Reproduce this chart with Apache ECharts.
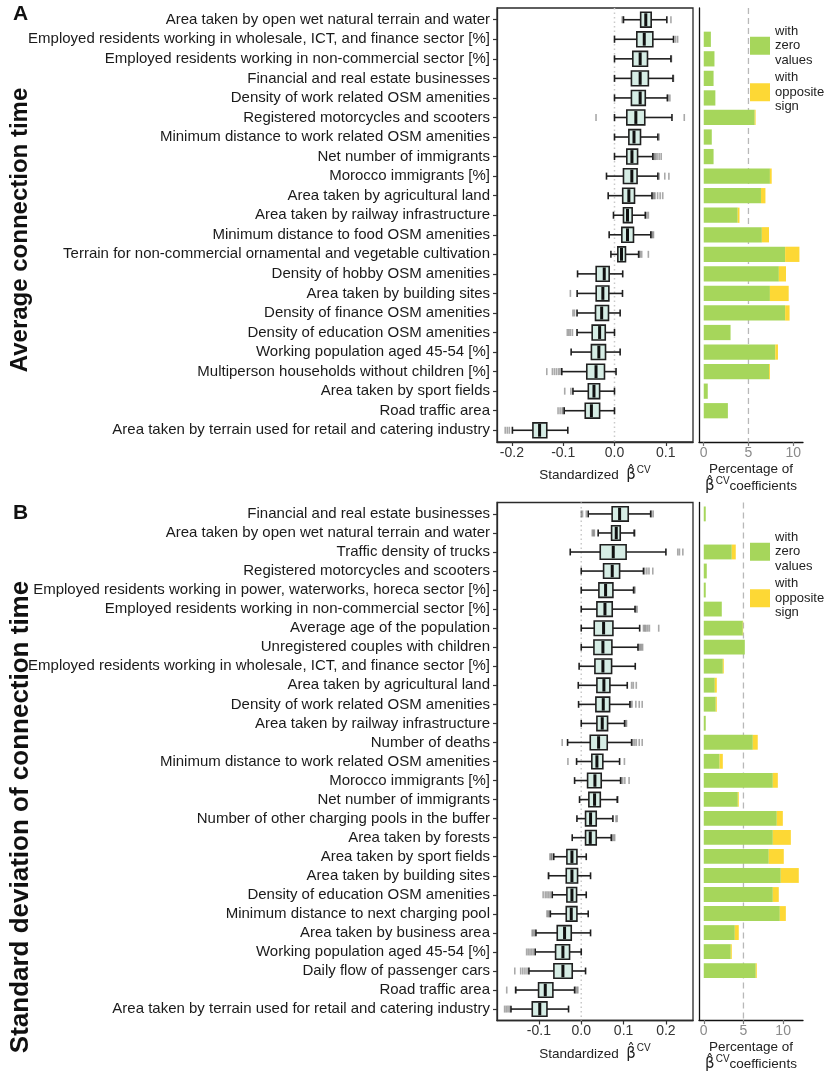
<!DOCTYPE html>
<html><head><meta charset="utf-8">
<script src="https://cdn.jsdelivr.net/npm/echarts@6/dist/echarts.min.js"></script>
<style>html,body{margin:0;padding:0;background:#fff}#c{width:826px;height:1074px}</style>
</head><body><div id="c"></div>
<script>
// ---------------- Panel A data ----------------
const catsA = [
"Area taken by open wet natural terrain and water",
"Employed residents working in wholesale, ICT, and finance sector [%]",
"Employed residents working in non-commercial sector [%]",
"Financial and real estate businesses",
"Density of work related OSM amenities",
"Registered motorcycles and scooters",
"Minimum distance to work related OSM amenities",
"Net number of immigrants",
"Morocco immigrants [%]",
"Area taken by agricultural land",
"Area taken by railway infrastructure",
"Minimum distance to food OSM amenities",
"Terrain for non-commercial ornamental and vegetable cultivation",
"Density of hobby OSM amenities",
"Area taken by building sites",
"Density of finance OSM amenities",
"Density of education OSM amenities",
"Working population aged 45-54 [%]",
"Multiperson households without children [%]",
"Area taken by sport fields",
"Road traffic area",
"Area taken by terrain used for retail and catering industry"];
const loA  = [0.0175,0.0,0.0,0.0,0.0,0.0,0.0,0.0,-0.0156,-0.0123,-0.002,-0.0104,-0.007,-0.072,-0.0728,-0.073,-0.073,-0.0845,-0.1027,-0.081,-0.098,-0.199];
const q1A  = [0.051,0.0435,0.0357,0.033,0.033,0.024,0.028,0.024,0.0175,0.016,0.0175,0.0143,0.0065,-0.0357,-0.0357,-0.037,-0.0435,-0.045,-0.054,-0.051,-0.057,-0.159];
const medA = [0.061,0.058,0.05,0.05,0.05,0.0416,0.038,0.034,0.0338,0.028,0.0253,0.0253,0.0136,-0.02,-0.0227,-0.025,-0.029,-0.0305,-0.036,-0.040,-0.045,-0.146];
const q3A  = [0.0715,0.0747,0.0643,0.066,0.060,0.059,0.0507,0.045,0.044,0.039,0.0344,0.037,0.0214,-0.0104,-0.011,-0.0117,-0.018,-0.0175,-0.0195,-0.029,-0.029,-0.132];
const hiA  = [0.102,0.115,0.11,0.114,0.103,0.112,0.0845,0.0747,0.0845,0.073,0.06,0.0708,0.047,0.016,0.0156,0.011,0.0,0.011,0.003,0.0,0.0,-0.091];
const outA = [[0.015,0.11],[0.119,0.123],[0.111],[0.115],[0.105,0.108],[-0.036,0.136],[0.087],
 [0.076,0.078,0.080,0.083,0.087,0.091],[0.087,0.098,0.106],[0.075,0.077,0.079,0.084,0.089,0.094],
 [0.063,0.066],[0.072,0.074,0.076],[0.048,0.050,0.053,0.066],[],[-0.086],[-0.081,-0.078],
 [-0.092,-0.089,-0.086,-0.082],[],[-0.132,-0.121,-0.117,-0.113,-0.109,-0.106],[-0.097,-0.085],
 [-0.110,-0.106,-0.102,-0.100],[-0.213,-0.209,-0.205]];
const zeroA = [0,0.8,1.2,1.1,1.3,5.7,0.9,1.1,7.4,6.4,3.8,6.5,9.1,8.4,7.4,9.1,3.0,8.0,7.3,0.45,2.7,0];
const oppA  = [0,0,0,0,0,0.1,0,0,0.2,0.5,0.2,0.8,1.6,0.8,2.1,0.5,0,0.3,0.1,0,0,0];

// ---------------- Panel B data ----------------
const catsB = [
"Financial and real estate businesses",
"Area taken by open wet natural terrain and water",
"Traffic density of trucks",
"Registered motorcycles and scooters",
"Employed residents working in power, waterworks, horeca sector [%]",
"Employed residents working in non-commercial sector [%]",
"Average age of the population",
"Unregistered couples with children",
"Employed residents working in wholesale, ICT, and finance sector [%]",
"Area taken by agricultural land",
"Density of work related OSM amenities",
"Area taken by railway infrastructure",
"Number of deaths",
"Minimum distance to work related OSM amenities",
"Morocco immigrants [%]",
"Net number of immigrants",
"Number of other charging pools in the buffer",
"Area taken by forests",
"Area taken by sport fields",
"Area taken by building sites",
"Density of education OSM amenities",
"Minimum distance to next charging pool",
"Area taken by business area",
"Working population aged 45-54 [%]",
"Daily flow of passenger cars",
"Road traffic area",
"Area taken by terrain used for retail and catering industry"];
const loB  = [0.0165,0.040,-0.026,0,0,0,0,0,-0.005,-0.007,-0.0063,0,-0.0323,-0.011,-0.0157,-0.004,-0.0102,-0.0213,-0.065,-0.077,-0.0685,-0.073,-0.107,-0.1087,-0.1236,-0.155,-0.166];
const q1B  = [0.073,0.0717,0.0449,0.0528,0.0417,0.037,0.0307,0.030,0.0323,0.037,0.0346,0.037,0.0213,0.025,0.015,0.018,0.0102,0.0102,-0.0339,-0.0354,-0.0339,-0.0354,-0.0567,-0.0606,-0.0646,-0.1008,-0.1157];
const medB = [0.0906,0.0827,0.0756,0.0732,0.0575,0.056,0.0528,0.0512,0.0512,0.0535,0.052,0.0496,0.041,0.037,0.0323,0.0315,0.022,0.0213,-0.022,-0.022,-0.022,-0.0236,-0.0394,-0.0433,-0.0433,-0.085,-0.098];
const q3B  = [0.111,0.0921,0.106,0.0906,0.0748,0.0732,0.0748,0.0724,0.0717,0.0677,0.067,0.0622,0.0614,0.051,0.0472,0.045,0.0354,0.0354,-0.0102,-0.0087,-0.011,-0.0102,-0.0236,-0.0276,-0.0213,-0.067,-0.081];
const hiB  = [0.164,0.125,0.2,0.147,0.1236,0.127,0.138,0.134,0.1276,0.1087,0.115,0.1024,0.119,0.0906,0.093,0.085,0.0748,0.0709,0.0118,0.022,0.0118,0.0165,0.022,0.0,0.0102,-0.0157,-0.03];
const outB = [[0.0,0.003,0.012,0.166,0.170],[0.026,0.029,0.031,0.127],[0.228,0.232,0.240],[0.150,0.155,0.160,0.169],
 [0.125,0.127],[0.129,0.132],[0.147,0.150,0.153,0.157,0.161,0.183],[0.136,0.139,0.142,0.145],[],
 [0.119,0.123,0.13],[0.117,0.120,0.129,0.137,0.144],[0.105,0.107],[-0.045,0.122,0.126,0.130,0.137,0.144],
 [-0.0315,0.102],[0.094,0.098,0.103,0.113],[0.087],[0.082,0.085],[0.073,0.076,0.079],[-0.074,-0.071,-0.069],
 [-0.078],[-0.09,-0.085,-0.081,-0.077,-0.073],[-0.081,-0.078,-0.075],[-0.116,-0.113,-0.110],
 [-0.129,-0.125,-0.121,-0.117,-0.113],[-0.157,-0.143,-0.138,-0.133,-0.128],[-0.176,-0.154,-0.014,-0.011,-0.008],
 [-0.181,-0.177,-0.173,-0.169]];
const zeroB = [0.25,0,3.53,0.38,0.25,2.27,4.92,5.17,2.4,1.39,1.51,0.25,6.18,2.0,8.7,4.29,9.2,8.7,8.19,9.7,8.7,9.58,3.91,3.4,6.55,0,0];
const oppB  = [0,0,0.5,0,0,0,0.04,0,0.12,0.25,0.13,0,0.62,0.4,0.63,0.12,0.76,2.27,1.89,2.27,0.75,0.76,0.5,0.13,0.13,0,0];

// tick labels
const ticksBoxA = [-0.2,-0.1,0.0,0.1];
const ticksBoxB = [-0.1,0.0,0.1,0.2];
const ticksBar = [0,5,10];
const refLine = 5;

const FONT = '"Liberation Sans", Arial, sans-serif';
const GREEN = '#a6d65b', YELLOW = '#fdd835', BOXFILL = '#d6ede5';
const idx = n => Array.from({length:n},(_,i)=>i);
const boxData = (lo,q1,md,q3,hi) => lo.map((v,i)=>[i,v,q1[i],md[i],q3[i],hi[i]]);
const outData = o => { const r=[]; o.forEach((a,i)=>a.forEach(v=>r.push([v,i]))); return r; };

function renderBox(params, api){
  const row = api.value(0);
  const lo=api.coord([api.value(1),row]), q1=api.coord([api.value(2),row]),
        md=api.coord([api.value(3),row]), q3=api.coord([api.value(4),row]), hi=api.coord([api.value(5),row]);
  const bh = api.size([0,0.76])[1], ch = api.size([0,0.36])[1];
  const y = lo[1];
  const st = {stroke:'#1f1f1f', lineWidth:1.6, fill:null};
  return {type:'group', children:[
    {type:'line', shape:{x1:lo[0],y1:y,x2:q1[0],y2:y}, style:st},
    {type:'line', shape:{x1:q3[0],y1:y,x2:hi[0],y2:y}, style:st},
    {type:'line', shape:{x1:lo[0],y1:y-ch/2,x2:lo[0],y2:y+ch/2}, style:st},
    {type:'line', shape:{x1:hi[0],y1:y-ch/2,x2:hi[0],y2:y+ch/2}, style:st},
    {type:'rect', shape:{x:q1[0],y:y-bh/2,width:q3[0]-q1[0],height:bh}, style:{fill:BOXFILL, stroke:'#1f1f1f', lineWidth:1.6}},
    {type:'line', shape:{x1:md[0],y1:y-bh/2+1,x2:md[0],y2:y+bh/2-1}, style:{stroke:'#111', lineWidth:3}}
  ]};
}
function renderBar(params, api){
  const row=api.value(0), a=api.value(1), b=api.value(2);
  if (!(b-a>0)) return;
  const p0=api.coord([a,row]), p1=api.coord([b,row]);
  const h=api.size([0,0.78])[1];
  return {type:'rect', shape:{x:p0[0], y:p0[1]-h/2, width:p1[0]-p0[0], height:h}, style:{fill:api.visual('color')}};
}

const grids = [
  {left:497, top:8, width:196, height:434, show:true, borderColor:'#2a2a2a', borderWidth:1.3},
  {left:699, top:8, width:104, height:434},
  {left:497, top:502.5, width:196, height:518, show:true, borderColor:'#2a2a2a', borderWidth:1.3},
  {left:699, top:502.5, width:104, height:518}
];

const betaRich = {
  t:{fontSize:13.5, color:'#222', fontFamily:FONT},
  b:{fontSize:15, color:'#222', fontFamily:'"DejaVu Sans", sans-serif'},
  s:{fontSize:10, color:'#222', fontFamily:FONT, padding:[0,0,11,1]}
};
function boxX(gi, min, max, ticks){
  return {type:'value', gridIndex:gi, min, max,
    axisLine:{show:true, onZero:false, lineStyle:{color:'#2a2a2a', width:1.3}},
    axisTick:{show:true, customValues:ticks, length:4, lineStyle:{color:'#333', width:1.2}},
    axisLabel:{customValues:ticks, formatter:v=>v.toFixed(1), color:'#333', fontSize:14, fontFamily:FONT, margin:4},
    splitLine:{show:false},
    name:'{t|Standardized  }{b|β̂}{s|CV}', nameLocation:'middle', nameGap:23,
    nameTextStyle:{rich:betaRich}};
}
function barX(gi, min, max){
  return {type:'value', gridIndex:gi, min, max,
    axisLine:{show:true, onZero:false, lineStyle:{color:'#111', width:1.3}},
    axisTick:{show:true, customValues:ticksBar, length:4, lineStyle:{color:'#777', width:1.2}},
    axisLabel:{customValues:ticksBar, color:'#8a8a8a', fontSize:14, fontFamily:FONT, margin:4},
    splitLine:{show:false},
    name:'Percentage of\n{b|β̂}{s|CV}{t|coefficients}', nameLocation:'middle', nameGap:15,
    nameTextStyle:{fontSize:13.5, color:'#222', fontFamily:FONT, lineHeight:17, rich:betaRich}};
}
function boxY(gi, cats){
  const n = cats.length;
  return {type:'value', gridIndex:gi, inverse:true, min:-0.6, max:n-0.4,
    axisLine:{show:true, onZero:false, lineStyle:{color:'#2a2a2a', width:1.3}},
    axisTick:{show:true, customValues:idx(n), length:4, lineStyle:{color:'#333', width:1.2}},
    axisLabel:{customValues:idx(n), formatter:v=>cats[Math.round(v)], color:'#1a1a1a', fontSize:15, fontFamily:FONT, margin:7},
    splitLine:{show:false}};
}
function barY(gi, n){
  return {type:'value', gridIndex:gi, inverse:true, min:-0.6, max:n-0.4,
    axisLine:{show:true, onZero:false, lineStyle:{color:'#111', width:1.3}},
    axisTick:{show:false}, axisLabel:{show:false}, splitLine:{show:false}};
}
function vline(xi, yi, x, n, style){
  return {type:'line', xAxisIndex:xi, yAxisIndex:yi, data:[[x,-0.6],[x,n-0.4]], symbol:'none', silent:true, z:1,
    lineStyle:style};
}
function panelSeries(xb, xr, cats, lo,q1,md,q3,hi,out, zero, opp){
  const n = cats.length;
  return [
    vline(xb, xb, 0, n, {color:'#c9c9c9', width:1.5, type:[1.5,3]}),
    vline(xr, xr, refLine, n, {color:'#b8b8b8', width:1.3, type:[6,4]}),
    {type:'custom', xAxisIndex:xb, yAxisIndex:xb, renderItem:renderBox, data:boxData(lo,q1,md,q3,hi),
     encode:{x:[1,2,3,4,5], y:0}, z:3, silent:true},
    {type:'scatter', xAxisIndex:xb, yAxisIndex:xb, data:outData(out), symbol:'rect', symbolSize:[1.6,7],
     itemStyle:{color:'rgba(60,60,60,0.55)'}, z:2, silent:true},
    {type:'custom', name:'with zero values', xAxisIndex:xr, yAxisIndex:xr, renderItem:renderBar,
     itemStyle:{color:GREEN}, data:zero.map((v,i)=>[i,0,v]), encode:{x:[1,2], y:0}, z:2, silent:true},
    {type:'custom', name:'with opposite sign', xAxisIndex:xr, yAxisIndex:xr, renderItem:renderBar,
     itemStyle:{color:YELLOW}, data:zero.map((v,i)=>[i,v,v+opp[i]]), encode:{x:[1,2], y:0}, z:2, silent:true}
  ];
}
function legend(top){
  return {data:['with zero values','with opposite sign'], left:750, top, orient:'vertical',
    itemWidth:20, itemHeight:18, itemGap:3, icon:'rect', selectedMode:false, padding:0,
    formatter:n=>n.replace(/ /g,'\n'),
    textStyle:{fontSize:13, lineHeight:14.5, color:'#222', fontFamily:FONT}};
}
const titleStyle = {fontWeight:'bold', fontFamily:FONT, fill:'#111',
  align:'center', verticalAlign:'middle', textAlign:'center', textVerticalAlign:'middle'};

const chart = echarts.init(document.getElementById('c'));
chart.setOption({
  animation:false,
  backgroundColor:'#fff',
  grid:grids,
  xAxis:[boxX(0,-0.229,0.153,ticksBoxA), barX(1,-0.53,11.1), boxX(2,-0.199,0.264,ticksBoxB), barX(3,-0.6,12.5)],
  yAxis:[boxY(0,catsA), barY(1,catsA.length), boxY(2,catsB), barY(3,catsB.length)],
  legend:[legend(24), legend(530)],
  series:[
    ...panelSeries(0,1,catsA,loA,q1A,medA,q3A,hiA,outA,zeroA,oppA),
    ...panelSeries(2,3,catsB,loB,q1B,medB,q3B,hiB,outB,zeroB,oppB)
  ],
  graphic:[
    {type:'text', left:13, top:4, style:{text:'A', fontSize:21, fontWeight:'bold', fontFamily:FONT, fill:'#111'}},
    {type:'text', left:13, top:503, style:{text:'B', fontSize:21, fontWeight:'bold', fontFamily:FONT, fill:'#111'}},
    {type:'text', x:20, y:230, rotation:Math.PI/2, style:Object.assign({text:'Average connection time', fontSize:24}, titleStyle)},
    {type:'text', x:21, y:817, rotation:Math.PI/2, style:Object.assign({text:'Standard deviation of connection time', fontSize:26}, titleStyle)}
  ]
});
</script></body></html>
